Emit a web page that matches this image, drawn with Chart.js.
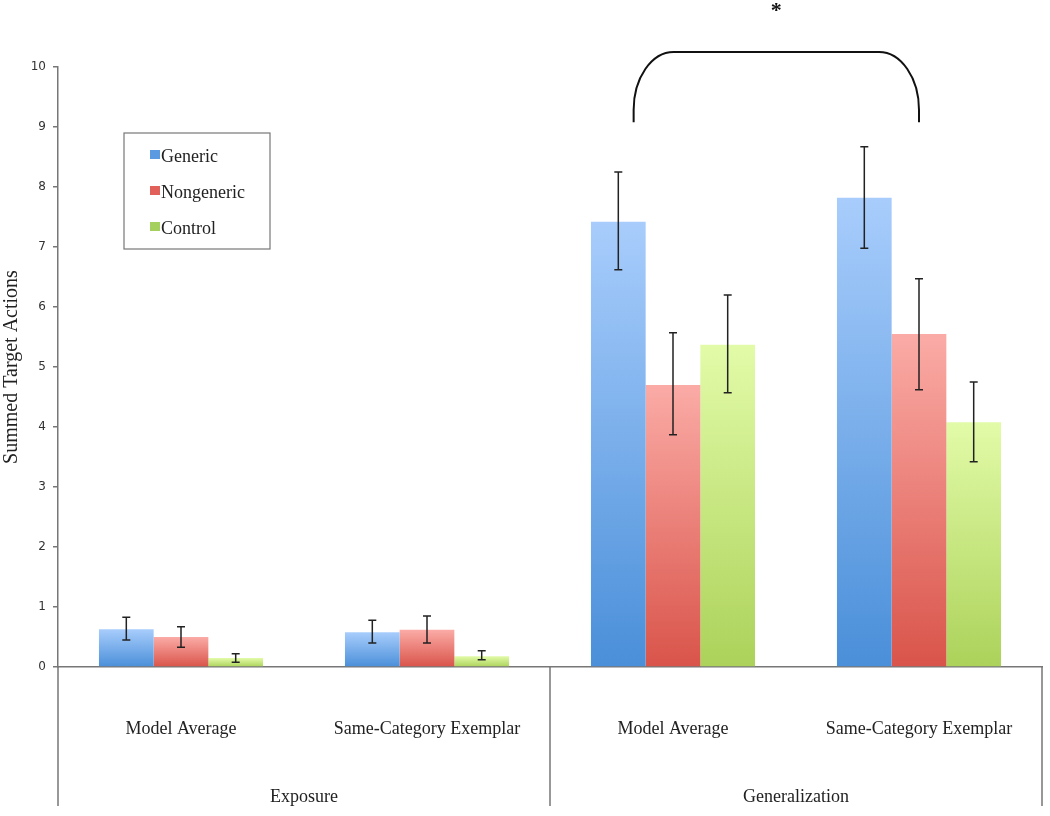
<!DOCTYPE html>
<html>
<head>
<meta charset="utf-8">
<script src="https://cdn.jsdelivr.net/npm/chart.js@4.4.1/dist/chart.umd.min.js"></script>
<style>
  html, body { margin: 0; padding: 0; background: #fff; }
  #wrap { width: 1050px; height: 816px; position: relative; }
</style>
</head>
<body>
<div id="wrap"><canvas id="chart"></canvas></div>
<script>
// categories and groups
const categories = ['Model Average', 'Same-Category Exemplar', 'Model Average', 'Same-Category Exemplar'];
const groups = ['Exposure', 'Generalization'];

// series means
const generic    = [0.63, 0.58, 7.42, 7.82];
const nongeneric = [0.50, 0.62, 4.70, 5.55];
const control    = [0.15, 0.18, 5.37, 4.08];

// error bar bounds
const genericLow     = [0.45, 0.40, 6.62, 6.98];
const genericHigh    = [0.83, 0.78, 8.25, 8.67];
const nongenericLow  = [0.33, 0.40, 3.87, 4.62];
const nongenericHigh = [0.67, 0.85, 5.57, 6.47];
const controlLow     = [0.08, 0.12, 4.57, 3.42];
const controlHigh    = [0.22, 0.27, 6.20, 4.75];

const yTicks = [0, 1, 2, 3, 4, 5, 6, 7, 8, 9, 10];

const serif = '"Liberation Serif", "DejaVu Serif", serif';
const sans = '"DejaVu Sans", Verdana, sans-serif';

// top / bottom colours for the gradient fills, plus legend swatch
const palette = {
  Generic:    ['#a8cdfc', '#4a8fd9', '#5b9ae0'],
  Nongeneric: ['#fbaba6', '#d9544a', '#e2605a'],
  Control:    ['#e2fba8', '#acd25a', '#a6d05e']
};

function barGradient(ctx) {
  const chart = ctx.chart;
  const y = chart.scales && chart.scales.y;
  const name = ctx.dataset.label;
  const [top, bottom] = palette[name];
  if (!y || !chart.chartArea || ctx.raw === undefined) return bottom;
  const yTop = y.getPixelForValue(ctx.raw);
  const yBot = y.getPixelForValue(0);
  if (!isFinite(yTop) || Math.abs(yBot - yTop) < 1) return bottom;
  const g = chart.ctx.createLinearGradient(0, yTop, 0, yBot);
  g.addColorStop(0, top);
  g.addColorStop(1, bottom);
  return g;
}

const errorBars = [
  [genericLow, genericHigh],
  [nongenericLow, nongenericHigh],
  [controlLow, controlHigh]
];

// error bars, bracket, legend box, group labels
const extras = {
  id: 'extras',
  afterDatasetsDraw(chart) {
    const { ctx, scales: { x, y }, chartArea } = chart;
    ctx.save();

    // error bars
    ctx.strokeStyle = '#222';
    ctx.lineWidth = 1.5;
    errorBars.forEach(([lo, hi], di) => {
      const meta = chart.getDatasetMeta(di);
      meta.data.forEach((bar, i) => {
        const cx = bar.x;
        const y1 = y.getPixelForValue(hi[i]);
        const y2 = y.getPixelForValue(lo[i]);
        ctx.beginPath();
        ctx.moveTo(cx, y1); ctx.lineTo(cx, y2);
        ctx.moveTo(cx - 4, y1); ctx.lineTo(cx + 4, y1);
        ctx.moveTo(cx - 4, y2); ctx.lineTo(cx + 4, y2);
        ctx.stroke();
      });
    });

    // significance bracket over the generalization groups
    const step = x.getPixelForValue(1) - x.getPixelForValue(0);
    const bx1 = x.getPixelForValue(2) - step * 0.16;
    const bx2 = x.getPixelForValue(3);
    const byLow = y.getPixelForValue(9.08);
    const byTop = y.getPixelForValue(10.25);
    const rx = 40, ry = 58;
    ctx.strokeStyle = '#111';
    ctx.lineWidth = 2;
    ctx.beginPath();
    ctx.moveTo(bx1, byLow);
    ctx.lineTo(bx1, byTop + ry);
    ctx.ellipse(bx1 + rx, byTop + ry, rx, ry, 0, Math.PI, Math.PI * 1.5);
    ctx.lineTo(bx2 - rx, byTop);
    ctx.ellipse(bx2 - rx, byTop + ry, rx, ry, 0, Math.PI * 1.5, Math.PI * 2);
    ctx.lineTo(bx2, byLow);
    ctx.stroke();
    ctx.fillStyle = '#111';
    ctx.font = 'bold 22px ' + serif;
    ctx.textAlign = 'center';
    ctx.textBaseline = 'middle';
    ctx.fillText('*', (bx1 + bx2) / 2, 11);

    // legend box
    const lx = 124, ly = 133, lw = 146, lh = 116;
    ctx.strokeStyle = '#777';
    ctx.lineWidth = 1.2;
    ctx.strokeRect(lx, ly, lw, lh);
    ctx.font = '18px ' + serif;
    ctx.textAlign = 'left';
    chart.data.datasets.forEach((ds, i) => {
      const iy = ly + 23 + i * 36;
      ctx.fillStyle = palette[ds.label][2];
      ctx.fillRect(lx + 26, iy - 6, 10, 9);
      ctx.fillStyle = '#222';
      ctx.fillText(ds.label, lx + 37, iy + 1);
    });

    // lower axis frame and group labels
    const base = y.getPixelForValue(0);
    const bottom = chart.height - 10;
    const left = chartArea.left;
    const mid = (x.getPixelForValue(1) + x.getPixelForValue(2)) / 2;
    const right = chartArea.right;
    ctx.strokeStyle = '#777';
    ctx.lineWidth = 1.5;
    ctx.beginPath();
    ctx.moveTo(left, base); ctx.lineTo(left, bottom);
    ctx.moveTo(mid, base); ctx.lineTo(mid, bottom);
    ctx.moveTo(right, base); ctx.lineTo(right, bottom);
    ctx.stroke();
    ctx.fillStyle = '#222';
    ctx.font = '18px ' + serif;
    ctx.textAlign = 'center';
    ctx.fillText(groups[0], (left + mid) / 2, 797);
    ctx.fillText(groups[1], (mid + right) / 2, 797);

    ctx.restore();
  }
};

const chart = new Chart(document.getElementById('chart'), {
  type: 'bar',
  data: {
    labels: categories,
    datasets: [
      { label: 'Generic', data: generic, backgroundColor: barGradient },
      { label: 'Nongeneric', data: nongeneric, backgroundColor: barGradient },
      { label: 'Control', data: control, backgroundColor: barGradient }
    ]
  },
  options: {
    responsive: true,
    maintainAspectRatio: false,
    animation: false,
    layout: { padding: { top: 67, right: 8, left: 0, bottom: 0 } },
    datasets: {
      bar: { categoryPercentage: 0.667, barPercentage: 1.0, borderWidth: 0 }
    },
    plugins: {
      legend: { display: false },
      tooltip: { enabled: false }
    },
    scales: {
      x: {
        grid: { display: false },
        border: { display: true, color: '#777', width: 1.5 },
        ticks: {
          color: '#222',
          font: { family: serif, size: 18 },
          padding: 43,
          maxRotation: 0,
          autoSkip: false
        },
        afterFit: axis => {
          axis.height = 149;
          axis.paddingLeft = 0;
          axis.paddingRight = 0;
        }
      },
      y: {
        min: 0,
        max: 10,
        afterBuildTicks: axis => { axis.ticks = yTicks.map(v => ({ value: v })); },
        grid: {
          drawOnChartArea: false,
          drawTicks: true,
          tickLength: 5,
          color: '#777',
          lineWidth: 1.5
        },
        border: { display: true, color: '#777', width: 1.5 },
        ticks: {
          color: '#333',
          font: { family: sans, size: 12 },
          padding: 7
        },
        title: {
          display: true,
          text: 'Summed Target Actions',
          color: '#222',
          font: { family: serif, size: 20 },
          padding: { top: 0, bottom: 2 }
        },
        afterFit: axis => { axis.width = 58; }
      }
    }
  },
  plugins: [extras]
});
</script>
</body>
</html>
